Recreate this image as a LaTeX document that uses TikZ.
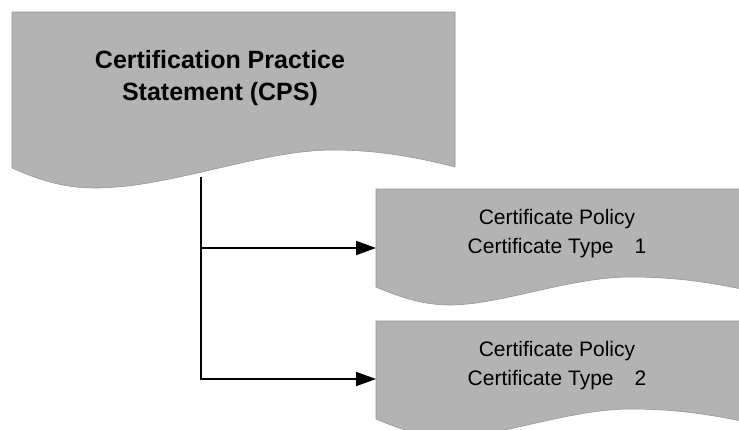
\documentclass[tikz,border=0pt]{standalone}
\usepackage{fontspec}
\setmainfont{Liberation Sans}
\usetikzlibrary{arrows.meta}

\definecolor{docgray}{RGB}{179,179,179}
\definecolor{docedge}{RGB}{150,150,150}

\tikzset{
  doc/.style={fill=docgray, draw=docedge, line width=0.6pt},
  link/.style={line width=1.8pt, -{Triangle[length=20pt,width=14pt]}},
  cpstext/.style={font=\fontsize{25}{32}\selectfont\bfseries, align=center},
  cptext/.style={font=\fontsize{21}{29}\selectfont, align=center},
}

\begin{document}
\begin{tikzpicture}[x=1pt,y=-1pt]
  \clip (0,0) rectangle (739,429);

  % CPS
  \draw[doc] (12,12) -- (455,12) -- (455,167)
     .. controls (420,158) and (380,150) .. (333,150)
     .. controls (260,150) and (170,188) .. (95,188)
     .. controls (60,188) and (35,178) .. (12,168) -- cycle;
  \node[cpstext] (cps) at (220,78) {Certification Practice\\Statement (CPS)};

  % Policy 1
  \draw[doc] (376,189) -- (790,189) -- (790,300)
     .. controls (720,283) and (680,277) .. (630,277)
     .. controls (570,277) and (500,305) .. (450,305)
     .. controls (420,305) and (395,295) .. (376,287) -- cycle;
  \node[cptext] (cp1) at (557,234) {Certificate Policy\\Certificate Type\hspace{1em}1};

  % Policy 2
  \draw[doc] (376,321) -- (790,321) -- (790,432)
     .. controls (720,415) and (680,409) .. (630,409)
     .. controls (570,409) and (500,437) .. (450,437)
     .. controls (420,437) and (395,427) .. (376,419) -- cycle;
  \node[cptext] (cp2) at (557,366) {Certificate Policy\\Certificate Type\hspace{1em}2};

  % Verbindungen
  \coordinate (cps-out) at (201,177);
  \coordinate (cp1-in) at (376,248);
  \coordinate (cp2-in) at (376,379);
  \draw[link] (cps-out) |- (cp2-in);
  \draw[link] (cps-out |- cp1-in) -- (cp1-in);
\end{tikzpicture}
\end{document}
